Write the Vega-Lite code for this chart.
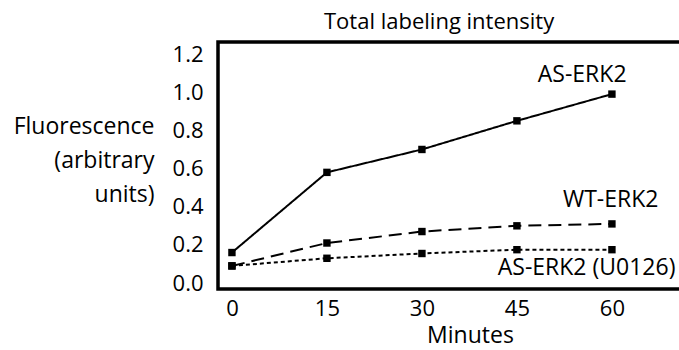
{
  "$schema": "https://vega.github.io/schema/vega-lite/v6.json",
  "autosize": "none",
  "padding": {"left": 218, "top": 42, "right": 0, "bottom": 61},
  "width": 500,
  "height": 247,
  "background": "white",
  "config": {
    "font": "Open Sans",
    "view": {"stroke": "black", "strokeWidth": 3.5}
  },
  "title": {
    "text": "Total labeling intensity",
    "fontSize": 22,
    "fontWeight": "normal",
    "anchor": "start",
    "frame": "group",
    "dx": 106,
    "offset": 8,
    "color": "black"
  },
  "datasets": {
    "series": [
      {"minutes": 0, "value": 0.16, "series": "AS-ERK2"},
      {"minutes": 15, "value": 0.58, "series": "AS-ERK2"},
      {"minutes": 30, "value": 0.70, "series": "AS-ERK2"},
      {"minutes": 45, "value": 0.85, "series": "AS-ERK2"},
      {"minutes": 60, "value": 0.99, "series": "AS-ERK2"},
      {"minutes": 0, "value": 0.09, "series": "WT-ERK2"},
      {"minutes": 15, "value": 0.21, "series": "WT-ERK2"},
      {"minutes": 30, "value": 0.27, "series": "WT-ERK2"},
      {"minutes": 45, "value": 0.30, "series": "WT-ERK2"},
      {"minutes": 60, "value": 0.31, "series": "WT-ERK2"},
      {"minutes": 0, "value": 0.09, "series": "AS-ERK2 (U0126)"},
      {"minutes": 15, "value": 0.13, "series": "AS-ERK2 (U0126)"},
      {"minutes": 30, "value": 0.155, "series": "AS-ERK2 (U0126)"},
      {"minutes": 45, "value": 0.175, "series": "AS-ERK2 (U0126)"},
      {"minutes": 60, "value": 0.175, "series": "AS-ERK2 (U0126)"}
    ],
    "labels": [
      {"minutes": 55.3, "value": 1.09, "label": "AS-ERK2"},
      {"minutes": 59.8, "value": 0.435, "label": "WT-ERK2"},
      {"minutes": 56.0, "value": 0.08, "label": "AS-ERK2 (U0126)"}
    ]
  },
  "encoding": {
    "x": {
      "field": "minutes",
      "type": "quantitative",
      "scale": {"domain": [-2.2, 76.75], "nice": false, "zero": false},
      "axis": {
        "values": [0, 15, 30, 45, 60],
        "domain": false,
        "ticks": false,
        "grid": false,
        "labelFontSize": 22,
        "labelColor": "black",
        "labelPadding": 9,
        "title": "Minutes",
        "titleFontSize": 23,
        "titleFontWeight": "normal",
        "titleColor": "black",
        "titleX": 252,
        "titlePadding": 5
      }
    },
    "y": {
      "field": "value",
      "type": "quantitative",
      "scale": {"domain": [-0.031, 1.263], "nice": false, "zero": false},
      "axis": {
        "values": [0, 0.2, 0.4, 0.6, 0.8, 1.0, 1.2],
        "format": ".1f",
        "domain": false,
        "ticks": false,
        "grid": false,
        "labelFontSize": 22,
        "labelColor": "black",
        "labelPadding": 15,
        "title": ["Fluorescence", "(arbitrary", "units)"],
        "titleAngle": 0,
        "titleAlign": "right",
        "titleBaseline": "alphabetic",
        "titleX": -64,
        "titleY": 91,
        "titleLineHeight": 34,
        "titleFontSize": 23,
        "titleFontWeight": "normal",
        "titleColor": "black"
      }
    }
  },
  "layer": [
    {
      "data": {"name": "series"},
      "mark": {"type": "line", "color": "black", "strokeWidth": 2},
      "encoding": {
        "detail": {"field": "series"},
        "strokeDash": {
          "field": "series",
          "type": "nominal",
          "scale": {
            "domain": ["AS-ERK2", "WT-ERK2", "AS-ERK2 (U0126)"],
            "range": [[1, 0], [13, 7], [4, 3]]
          },
          "legend": null
        }
      }
    },
    {
      "data": {"name": "series"},
      "mark": {"type": "point", "shape": "square", "filled": true, "color": "black", "size": 55, "opacity": 1}
    },
    {
      "data": {"name": "labels"},
      "mark": {"type": "text", "fontSize": 23, "color": "black", "align": "center", "baseline": "middle"},
      "encoding": {"text": {"field": "label"}}
    }
  ]
}
